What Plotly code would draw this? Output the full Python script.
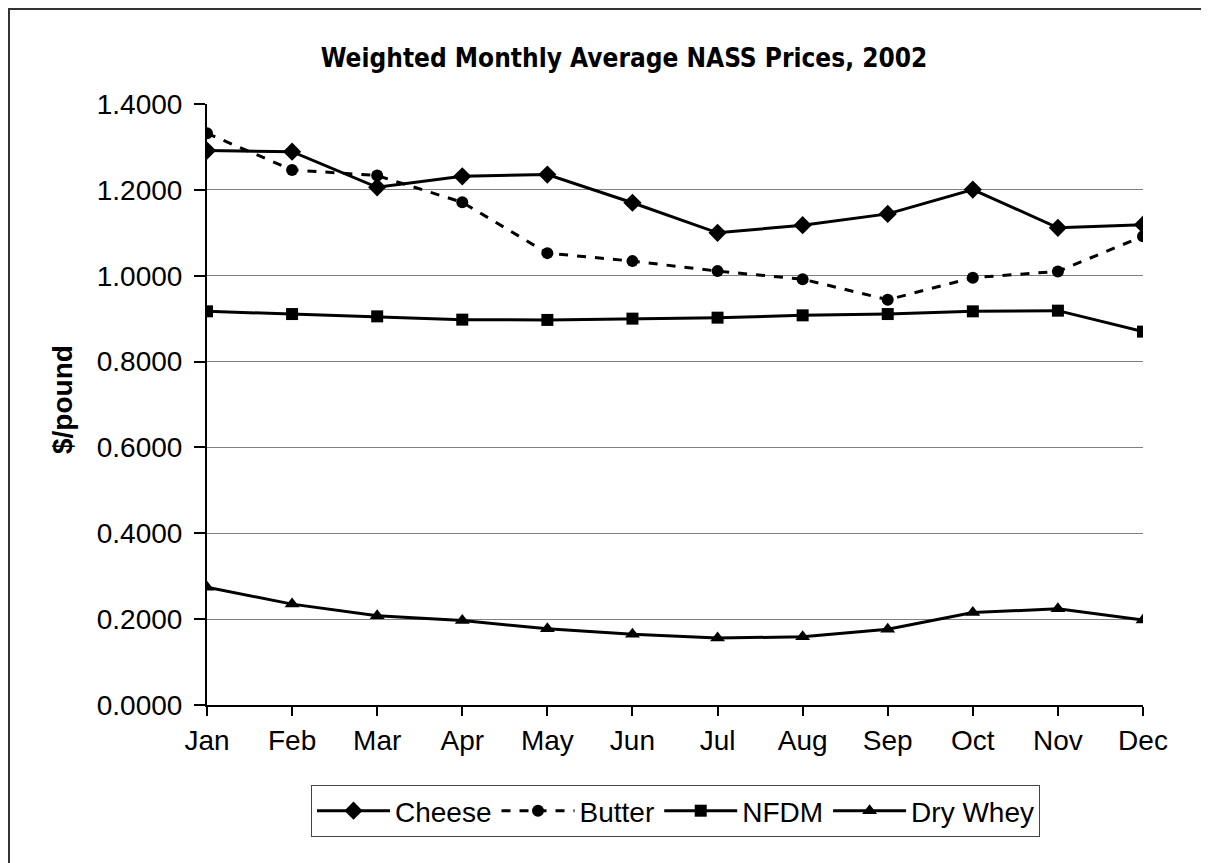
import plotly.graph_objects as go

months = ["Jan", "Feb", "Mar", "Apr", "May", "Jun", "Jul", "Aug", "Sep", "Oct", "Nov", "Dec"]
cheese = [1.2914, 1.2890, 1.2060, 1.2316, 1.2356, 1.1700, 1.1000, 1.1177, 1.1440, 1.2007, 1.1116, 1.1190]
butter = [1.3316, 1.2465, 1.2333, 1.1710, 1.0526, 1.0340, 1.0107, 0.9920, 0.9440, 0.9953, 1.0100, 1.0920]
nfdm = [0.9170, 0.9107, 0.9053, 0.8977, 0.8970, 0.9000, 0.9023, 0.9077, 0.9107, 0.9170, 0.9186, 0.8698]
dry_whey = [0.2744, 0.2350, 0.2077, 0.1967, 0.1774, 0.1650, 0.1558, 0.1590, 0.1767, 0.2153, 0.2240, 0.1980]

title_text = "Weighted Monthly Average NASS Prices, 2002"
y_title = "$/pound"

# figure is offset by the page's 8px body margin
W, H = 1201, 855
L, T, PW, PH = 199, 96, 936, 601
R, B = W - L - PW, H - T - PH

fig = go.Figure()
series = [
    ("Cheese", cheese, "diamond", 14, "solid"),
    ("Butter", butter, "circle", 12, "dash"),
    ("NFDM", nfdm, "square", 12, "solid"),
    ("Dry Whey", dry_whey, "triangle-up", 13, "solid"),
]
for name, vals, sym, size, dash in series:
    fig.add_trace(go.Scatter(
        x=months, y=vals, name=name, mode="lines+markers",
        line=dict(color="black", width=3, dash=dash),
        marker=dict(symbol=sym, size=size, color="black"),
    ))

FS = 28
fig.update_layout(
    width=W, height=H,
    paper_bgcolor="white", plot_bgcolor="white",
    margin=dict(l=L, r=R, t=T, b=B, autoexpand=False),
    font=dict(family="Liberation Sans, Arial", size=FS, color="black"),
    title=dict(text=title_text, x=(624 - 8) / W, xanchor="center",
               y=1 - (58 - 8) / H, yanchor="middle",
               font=dict(family="DejaVu Sans Condensed", size=26, weight="bold", color="black")),
    showlegend=True,
    legend=dict(orientation="h", x=(675.5 - 8 - L) / PW, xanchor="center",
                y=-(785 - 8 - (T + PH)) / PH, yanchor="top",
                bordercolor="#444444", borderwidth=1, font=dict(size=FS),
                itemwidth=73, tracegroupgap=0),
    xaxis=dict(type="category", range=[0, 11], showgrid=False,
               showline=True, linecolor="black", linewidth=2,
               ticks="outside", ticklen=9, tickwidth=1.5, tickcolor="black",
               tickfont=dict(size=FS)),
    yaxis=dict(range=[0, 1.4], dtick=0.2, tickformat=".4f",
               showgrid=True, gridcolor="#808080", gridwidth=1,
               showline=True, linecolor="black", linewidth=2,
               ticks="outside", ticklen=11, tickwidth=1.5, tickcolor="black",
               ticklabelstandoff=6,
               tickfont=dict(size=FS), zeroline=False),
    annotations=[dict(text="<b>" + y_title + "</b>", xref="paper", yref="paper",
                      x=(62 - 8 - L) / PW, y=(T + PH - (400 - 8)) / PH,
                      xanchor="center", yanchor="middle", textangle=-90,
                      showarrow=False, font=dict(size=FS))],
    shapes=[dict(type="rect", xref="paper", yref="paper",
                 x0=(1 - L) / PW, x1=1.0 + (R + 20) / PW,
                 y0=-(B + 20) / PH, y1=1 + (T - 1) / PH,
                 line=dict(color="#333333", width=2))],
)

fig.write_html("out.html")
